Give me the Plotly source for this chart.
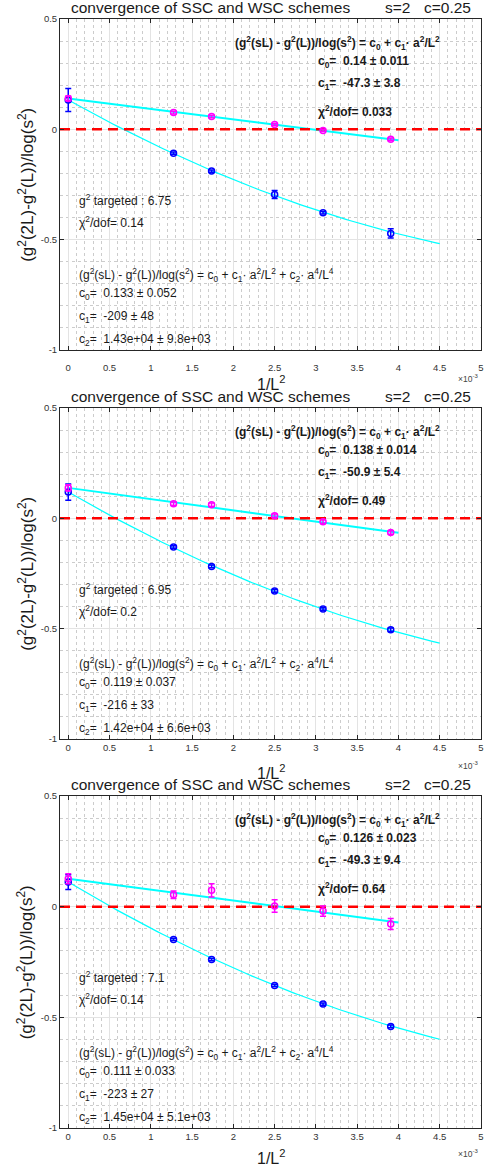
import numpy as np
import plotly.graph_objects as go

# ---------------- data ----------------
L_values = [28, 24, 20, 18, 16]
inv_L2 = [1.0 / L**2 for L in L_values]

g2_targeted = ["6.75", "6.95", "7.1"]

# magenta series (linear fit)
mag_y = [
    [0.076, 0.058, 0.022, -0.005, -0.045],
    [0.066, 0.062, 0.012, -0.015, -0.064],
    [0.054, 0.074, 0.003, -0.020, -0.078],
]
mag_err = [
    [0.006, 0.006, 0.005, 0.005, 0.006],
    [0.008, 0.008, 0.008, 0.008, 0.008],
    [0.017, 0.030, 0.028, 0.023, 0.025],
]
# blue series (quadratic fit)
blue_y = [
    [-0.108, -0.189, -0.295, -0.378, -0.472],
    [-0.130, -0.218, -0.329, -0.411, -0.505],
    [-0.148, -0.239, -0.356, -0.440, -0.541],
]
blue_err = [
    [0.005, 0.005, 0.018, 0.006, 0.021],
    [0.006, 0.006, 0.006, 0.006, 0.008],
    [0.005, 0.005, 0.005, 0.005, 0.006],
]

# linear fit results
lin_c0 = [0.14, 0.138, 0.126]
lin_dc0 = [0.011, 0.014, 0.023]
lin_c1 = [-47.3, -50.9, -49.3]
lin_dc1 = [3.8, 5.4, 9.4]
lin_chi = ["0.033", "0.49", "0.64"]
lin_c0_txt = ["0.14", "0.138", "0.126"]
lin_dc0_txt = ["0.011", "0.014", "0.023"]

# quadratic fit results
quad_c0 = [0.133, 0.119, 0.111]
quad_dc0 = [0.052, 0.037, 0.033]
quad_c1 = [-209, -216, -223]
quad_dc1 = [48, 33, 27]
quad_c2 = [1.43e4, 1.42e4, 1.45e4]
quad_c2_txt = ["1.43e+04", "1.42e+04", "1.45e+04"]
quad_dc2_txt = ["9.8e+03", "6.6e+03", "5.1e+03"]
quad_chi = ["0.14", "0.2", "0.14"]

x_ticks = [0, 0.5, 1, 1.5, 2, 2.5, 3, 3.5, 4, 4.5, 5]

# ---------------- figure ----------------
W, H = 492, 1166
FONT = "Liberation Sans, Arial, Helvetica, sans-serif"
MAG = "#FF00FF"
BLUE = "#0000FF"
CYAN = "#00FFFF"
AXC = "#262626"
TXT = "#1a1a1a"

boxes = [(19, 350), (408, 739), (796, 1128)]
xlabel_y = [-1.148, -1.148, -1.13]
xexp_y = [-1.127, -1.118, -1.115]
tick_standoff = [9, 0, 0]
left_px, right_px = 60, 481

xr = [-0.1e-3, 5.0e-3 + 1e-9]
yr = [-1, 0.5]

fig = go.Figure()
layout = dict(
    width=W, height=H, margin=dict(l=0, r=0, t=0, b=0, autoexpand=False),
    paper_bgcolor="white", plot_bgcolor="white", showlegend=False,
    font=dict(family=FONT, color=AXC),
)
annotations = []

for i in range(3):
    n = "" if i == 0 else str(i + 1)
    xa, ya = "x" + n, "y" + n
    top, bot = boxes[i]
    xdom = [left_px / W, right_px / W]
    ydom = [1 - bot / H, 1 - top / H]
    layout["xaxis" + n] = dict(
        domain=xdom, anchor=ya, range=xr,
        tickvals=[t * 1e-3 for t in x_ticks], ticktext=[f"{t:g}" for t in x_ticks],
        ticks="inside", ticklen=4, tickwidth=1, tickcolor=AXC,
        showline=True, linecolor=AXC, linewidth=1, mirror="ticks",
        showgrid=True, gridcolor="#E3E3E3", gridwidth=1,
        minor=dict(dtick=0.1e-3, tick0=0, showgrid=True, gridcolor="#CCCCCC",
                   griddash="dot", gridwidth=1),
        tickfont=dict(size=9.5, color="#333333"), zeroline=False,
        ticklabelstandoff=tick_standoff[i],
    )
    layout["yaxis" + n] = dict(
        domain=ydom, anchor=xa, range=yr,
        tickvals=[-1, -0.5, 0, 0.5], ticktext=["-1", "-0.5", "0", "0.5"],
        ticks="inside", ticklen=4, tickwidth=1, tickcolor=AXC,
        showline=True, linecolor=AXC, linewidth=1, mirror="ticks",
        showgrid=True, gridcolor="#E3E3E3", gridwidth=1,
        minor=dict(dtick=0.1, tick0=0, showgrid=True, gridcolor="#CCCCCC",
                   griddash="dot", gridwidth=1),
        tickfont=dict(size=9.5, color="#333333"), zeroline=False,
    )

    # fit curves
    xl = np.linspace(0, 4.0e-3, 50)
    fig.add_trace(go.Scatter(x=xl, y=lin_c0[i] + lin_c1[i] * xl, mode="lines",
                             line=dict(color=CYAN, width=2), xaxis=xa, yaxis=ya,
                             hoverinfo="skip"))
    xq = np.linspace(0, 4.5e-3, 100)
    fig.add_trace(go.Scatter(x=xq, y=quad_c0[i] + quad_c1[i] * xq + quad_c2[i] * xq**2,
                             mode="lines", line=dict(color=CYAN, width=1.2),
                             xaxis=xa, yaxis=ya, hoverinfo="skip"))
    # zero reference
    fig.add_trace(go.Scatter(x=xr, y=[0, 0], mode="lines",
                             line=dict(color="#FF0000", width=2.5, dash="10px,6px"),
                             xaxis=xa, yaxis=ya, hoverinfo="skip"))
    # blue data + extrapolation
    fig.add_trace(go.Scatter(
        x=[0] + inv_L2, y=[quad_c0[i]] + blue_y[i], mode="markers",
        marker=dict(symbol="circle-open", size=6, color=BLUE, line=dict(width=1.5, color=BLUE)),
        error_y=dict(type="data", array=[quad_dc0[i]] + blue_err[i], color=BLUE,
                     thickness=1.5, width=3),
        xaxis=xa, yaxis=ya))
    # magenta data + extrapolation
    fig.add_trace(go.Scatter(
        x=[0] + inv_L2, y=[lin_c0[i]] + mag_y[i], mode="markers",
        marker=dict(symbol="circle-open", size=6, color=MAG, line=dict(width=1.5, color=MAG)),
        error_y=dict(type="data", array=[lin_dc0[i]] + mag_err[i], color=MAG,
                     thickness=1.5, width=3),
        xaxis=xa, yaxis=ya))

    def ann(xd, yd, text, size=12, anchor="left", color=TXT, **kw):
        # position given in data units of this panel -> paper coordinates
        px = xdom[0] + (xd - xr[0]) / (xr[1] - xr[0]) * (xdom[1] - xdom[0])
        py = ydom[0] + (yd - yr[0]) / (yr[1] - yr[0]) * (ydom[1] - ydom[0])
        d = dict(x=px, y=py, xref="paper", yref="paper", text=text, showarrow=False,
                 xanchor=anchor, yanchor="middle",
                 font=dict(family=FONT, size=size, color=color))
        d.update(kw)
        annotations.append(d)

    # titles
    ann(0.012e-3, 0.55, "convergence of SSC and WSC schemes", size=15.5)
    ann(3.81e-3, 0.55, "s=2", size=15.5)
    ann(4.29e-3, 0.55, "c=0.25", size=15.5)
    # x label and exponent
    ann(2.46e-3, xlabel_y[i], "1/L<sup>2</sup>", size=16, anchor="center")
    ann(4.84e-3, xexp_y[i], "×10<sup>-3</sup>", size=8.5, anchor="center", color="#444444")
    # y label
    ann(-0.52e-3, -0.25, "(g<sup>2</sup>(2L)-g<sup>2</sup>(L))/log(s<sup>2</sup>)", size=17,
        anchor="center", textangle=-90)

    # linear fit block (bold)
    ann(2.0e-3, 0.392,
        "<b>(g<sup>2</sup>(sL) - g<sup>2</sup>(L))/log(s<sup>2</sup>) = c<sub>0</sub> + c<sub>1</sub>· a<sup>2</sup>/L<sup>2</sup></b>")
    ann(3.0e-3, 0.306, f"<b>c<sub>0</sub>=  {lin_c0_txt[i]} ± {lin_dc0_txt[i]}</b>")
    ann(3.0e-3, 0.206, f"<b>c<sub>1</sub>=  {lin_c1[i]:g} ± {lin_dc1[i]:g}</b>")
    ann(3.0e-3, 0.084, f"<b>χ<sup>2</sup>/dof= {lin_chi[i]}</b>")

    # quadratic fit block
    ann(0.11e-3, -0.319, f"g<sup>2</sup> targeted : {g2_targeted[i]}")
    ann(0.11e-3, -0.419, f"χ<sup>2</sup>/dof= {quad_chi[i]}")
    ann(0.11e-3, -0.659,
        "(g<sup>2</sup>(sL) - g<sup>2</sup>(L))/log(s<sup>2</sup>) = c<sub>0</sub> + c<sub>1</sub>· a<sup>2</sup>/L<sup>2</sup> + c<sub>2</sub>· a<sup>4</sup>/L<sup>4</sup>")
    ann(0.11e-3, -0.745, f"c<sub>0</sub>=  {quad_c0[i]:g} ± {quad_dc0[i]:g}")
    ann(0.11e-3, -0.850, f"c<sub>1</sub>=  {quad_c1[i]:g} ± {quad_dc1[i]:g}")
    ann(0.11e-3, -0.954, f"c<sub>2</sub>=  {quad_c2_txt[i]} ± {quad_dc2_txt[i]}")

layout["annotations"] = annotations
fig.update_layout(**layout)
# remove the browser's default 8px page margin so the figure sits at the window origin
fig.write_html("out.html", config={"displayModeBar": False},
               post_script="document.body.style.margin='0';document.body.style.overflow='hidden';")
